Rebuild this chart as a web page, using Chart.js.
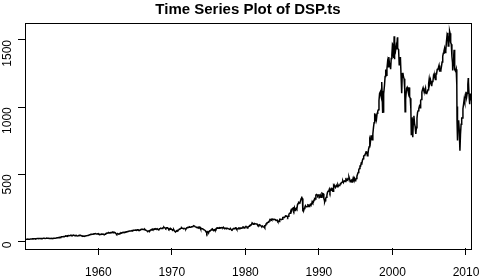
<!DOCTYPE html>
<html><head><meta charset="utf-8">
<script src="https://cdn.jsdelivr.net/npm/chart.js@4/dist/chart.umd.min.js"></script>
<style>html,body{margin:0;padding:0;background:#fff}#wrap{width:482px;height:280px}</style>
</head><body><div id="wrap"><canvas id="c" width="482" height="280"></canvas></div>
<script>
const titleText = "Time Series Plot of DSP.ts";
const xTicks = [1960, 1970, 1980, 1990, 2000, 2010];
const yTicks = [0, 500, 1000, 1500];
const startYear = 1950;
const startValue = 16.66;
// monthly closes, by decade (Jan..Dec)
const closes1950s = [
17.05,17.22,17.29,17.96,18.78,17.69,17.84,18.42,19.45,19.53,19.51,20.41,
21.66,21.80,21.40,22.43,21.52,20.96,22.40,23.28,23.26,22.94,22.88,23.77,
24.14,23.26,24.37,23.32,23.86,24.96,25.40,25.03,24.54,24.52,25.66,26.57,
26.38,25.90,25.29,24.62,24.54,24.14,24.75,23.32,23.35,24.54,24.76,24.81,
26.08,26.15,26.94,28.26,29.19,29.21,30.88,29.83,32.31,31.68,34.24,35.98,
36.63,36.76,36.58,37.96,37.91,41.03,43.52,43.18,43.67,42.34,45.51,45.48,
43.82,45.34,48.48,48.38,45.20,46.97,49.39,47.51,45.35,45.58,45.08,46.67,
44.72,43.26,44.11,45.74,47.43,47.37,47.91,45.22,42.42,41.06,41.72,39.99,
41.70,40.84,42.10,43.44,44.09,45.24,47.19,47.75,50.06,51.33,52.48,55.21,
55.42,55.41,55.44,57.59,58.68,58.47,60.51,59.60,56.88,57.52,58.28,59.89];
const closes1960s = [
55.61,56.12,55.34,54.37,55.83,56.92,55.51,56.96,53.52,53.39,55.54,58.11,
61.78,63.44,65.06,65.31,66.56,64.64,66.76,68.07,66.73,68.62,71.32,71.55,
68.84,69.96,69.55,65.24,59.63,54.75,58.23,59.12,56.27,56.52,62.26,63.10,
66.20,64.29,66.57,69.80,70.80,69.37,69.13,72.50,71.70,74.01,73.23,75.02,
77.04,77.80,78.98,79.46,80.37,81.69,83.18,81.83,84.18,84.86,84.42,84.75,
87.56,87.43,86.16,89.11,88.42,84.12,85.25,87.17,89.96,92.42,91.61,92.43,
92.88,91.22,89.23,91.06,86.13,84.74,83.60,77.10,76.56,80.20,80.45,80.33,
86.61,86.78,90.20,94.01,89.08,90.64,94.75,93.64,96.71,93.90,94.00,96.47,
92.24,89.36,90.20,97.59,98.68,99.58,97.74,98.86,102.67,103.41,108.37,103.86,
103.01,98.13,101.51,103.69,103.46,97.71,91.83,95.51,93.12,97.24,93.81,92.06];
const closes1970s = [
85.02,89.50,89.63,81.52,76.55,72.72,78.05,81.52,84.21,83.25,87.20,92.15,
95.88,96.75,100.31,103.95,99.63,98.70,95.58,99.03,98.34,94.23,93.99,102.09,
103.94,106.57,107.20,107.67,109.53,107.14,107.39,111.09,110.55,111.58,116.67,118.05,
116.03,111.68,111.52,106.97,104.95,104.26,108.22,104.25,108.43,108.29,95.96,97.55,
96.57,96.22,93.98,90.31,87.28,86.00,79.31,72.15,63.54,73.90,69.97,68.56,
76.98,81.59,83.36,87.30,91.15,95.19,88.75,86.88,83.87,89.04,91.24,90.19,
100.86,99.71,102.77,101.64,100.18,104.28,103.44,102.91,105.24,102.90,102.10,107.46,
102.03,99.82,98.42,98.44,96.12,100.48,98.85,96.77,96.53,92.34,94.83,95.10,
89.25,87.04,89.21,96.83,97.24,95.53,100.68,103.29,102.54,93.15,94.70,96.11,
99.93,96.28,101.59,101.76,99.08,102.91,103.81,109.32,109.32,101.82,106.16,107.94];
const closes1980s = [
114.16,113.66,102.09,106.29,111.24,114.24,121.67,122.38,125.46,127.47,140.52,135.76,
129.55,131.27,136.00,132.81,132.59,131.21,130.92,122.79,116.18,121.89,126.35,122.55,
120.40,113.11,111.96,116.44,111.88,109.61,107.09,119.51,120.42,133.71,138.54,140.64,
145.30,148.06,152.96,164.42,162.39,168.11,162.56,164.40,166.07,163.55,166.40,164.93,
163.41,157.06,159.18,160.05,150.55,153.18,150.66,166.68,166.10,166.09,163.58,167.24,
179.63,181.18,180.66,179.83,189.55,191.85,190.92,188.63,182.08,189.82,202.17,211.28,
211.78,226.92,238.90,235.52,247.35,250.84,236.12,252.93,231.32,243.98,249.22,242.17,
274.08,284.20,291.70,288.36,290.10,304.00,318.66,329.80,321.83,251.79,230.30,247.08,
257.07,267.82,258.89,261.33,262.16,273.50,272.02,261.52,271.91,278.97,273.70,277.72,
297.47,288.86,294.87,309.64,320.52,317.98,346.08,351.45,349.15,340.36,345.99,353.40];
const closes1990s = [
329.08,331.89,339.94,330.80,361.23,358.02,356.15,322.56,306.05,304.00,322.22,330.22,
343.93,367.07,375.22,375.34,389.83,371.16,387.81,395.43,387.86,392.46,375.22,417.09,
408.79,412.70,403.69,414.95,415.35,408.14,424.21,414.03,417.80,418.68,431.35,435.71,
438.78,443.38,451.67,440.19,450.19,450.53,448.13,463.56,458.93,467.83,461.79,466.45,
481.61,467.14,445.77,450.91,456.50,444.27,458.26,475.49,462.69,472.35,453.69,459.27,
470.42,487.39,500.71,514.71,533.40,544.75,562.06,561.88,584.41,581.50,605.37,615.93,
636.02,640.43,645.50,654.17,669.12,670.63,639.95,651.99,687.31,705.27,757.02,740.74,
786.16,790.82,757.12,801.34,848.28,885.14,954.31,899.47,947.28,914.62,955.40,970.43,
980.28,1049.34,1101.75,1111.75,1090.82,1133.84,1120.67,957.28,1017.01,1098.67,1163.63,1229.23,
1279.64,1238.33,1286.37,1335.18,1301.84,1372.71,1328.72,1320.41,1282.71,1362.93,1388.91,1469.25];
const closes2000s = [
1394.46,1366.42,1498.58,1452.43,1420.60,1454.60,1430.83,1517.68,1436.51,1429.40,1314.95,1320.28,
1366.01,1239.94,1160.33,1249.46,1255.82,1224.38,1211.23,1133.58,1040.94,1059.78,1139.45,1148.08,
1130.20,1106.73,1147.39,1076.92,1067.14,989.82,911.62,916.07,815.28,885.76,936.31,879.82,
855.70,841.15,848.18,916.92,963.59,974.50,990.31,1008.01,995.97,1050.71,1058.20,1111.92,
1131.13,1144.94,1126.21,1107.30,1120.68,1140.84,1101.72,1104.24,1114.58,1130.20,1173.82,1211.92,
1181.27,1203.60,1180.59,1156.85,1191.50,1191.33,1234.18,1220.33,1228.81,1207.01,1249.48,1248.29,
1280.08,1280.66,1294.83,1310.61,1270.09,1270.20,1276.66,1303.82,1335.85,1377.94,1400.63,1418.30,
1438.24,1406.82,1420.86,1482.37,1530.62,1503.35,1455.27,1473.99,1526.75,1549.38,1481.14,1468.36,
1378.55,1330.63,1322.70,1385.59,1400.38,1280.00,1267.38,1282.83,1166.36,968.75,896.24,903.25,
825.88,735.09,797.87,872.81,919.14,919.32,987.48,1020.62,1057.08,1036.19,1095.63,1115.10];
const closes2010s = [1073.87,1104.49,1169.43,1186.69,1089.41,1030.71,1101.60,1049.33];
// intra-month daily extremes: [decimal year, close]
const extremeDates = [1974.75,1982.61,1987.65,1987.80,1990.78,1998.54,1998.77,2000.04,2000.23,2000.29,2000.67,2001.08,2001.26,2001.72,2002.56,2002.77,2003.19,2007.55,2007.77,2008.19,2008.38,2008.78,2008.82,2008.84,2008.89,2009.18,2010.31,2010.50];
const extremeValues = [62.28,102.42,336.77,224.84,295.46,1186.75,959.44,1465.15,1527.46,1356.56,1520.77,1373.73,1103.25,965.80,797.70,776.76,800.73,1553.08,1565.15,1273.37,1426.63,899.22,848.92,1005.75,752.44,676.53,1217.28,1022.58];

const monthly = [].concat(closes1950s, closes1960s, closes1970s, closes1980s, closes1990s, closes2000s, closes2010s);
const pts = [{x: startYear, y: startValue}];
monthly.forEach((v, i) => pts.push({x: startYear + (i + 1) / 12, y: v}));
extremeDates.forEach((d, i) => pts.push({x: d, y: extremeValues[i]}));
pts.sort((a, b) => a.x - b.x);

const boxPlugin = {
  id: 'box',
  afterDraw(chart) {
    const a = chart.chartArea, ctx = chart.ctx;
    ctx.save();
    ctx.strokeStyle = '#000';
    ctx.lineWidth = 1;
    ctx.strokeRect(Math.round(a.left) + 0.5, Math.round(a.top) + 0.5, Math.round(a.right - a.left), Math.round(a.bottom - a.top));
    ctx.restore();
  }
};

const fontFam = 'Liberation Sans, Arial, sans-serif';
new Chart(document.getElementById('c'), {
  type: 'line',
  data: { datasets: [{ data: pts, borderColor: '#000', borderWidth: 1.5, pointRadius: 0, tension: 0, fill: false }] },
  options: {
    responsive: false, animation: false, parsing: true,
    layout: { padding: { left: 0, right: 11, top: 0, bottom: 0 } },
    plugins: {
      legend: { display: false }, tooltip: { enabled: false },
      title: { display: true, text: titleText, color: '#000', fullSize: false,
        font: { family: fontFam, size: 15, weight: 'bold' },
        padding: { top: 0.5, bottom: 4 } }
    },
    scales: {
      x: { type: 'linear', min: 1950.03, max: 2010.68,
        afterBuildTicks: s => { s.ticks = xTicks.map(v => ({ value: v })); },
        afterFit: s => { s.height = 32; s.paddingLeft = 0; s.paddingRight = 0; },
        grid: { display: true, drawOnChartArea: false, drawTicks: true, tickLength: 7, color: '#000', tickColor: '#000' },
        border: { display: false },
        ticks: { color: '#000', font: { family: fontFam, size: 12 }, padding: 10, maxRotation: 0, autoSkip: false,
          callback: v => String(v) }
      },
      y: { min: -47, max: 1630,
        afterBuildTicks: s => { s.ticks = yTicks.map(v => ({ value: v })); },
        afterFit: s => { s.width = 25; s.paddingTop = 0; s.paddingBottom = 0; },
        grid: { display: true, drawOnChartArea: false, drawTicks: true, tickLength: 7, color: '#000', tickColor: '#000' },
        border: { display: false },
        ticks: { color: '#000', font: { family: fontFam, size: 12 }, padding: 10, minRotation: 90, maxRotation: 90, autoSkip: false,
          callback: v => String(v) }
      }
    }
  },
  plugins: [boxPlugin]
});
</script></body></html>
